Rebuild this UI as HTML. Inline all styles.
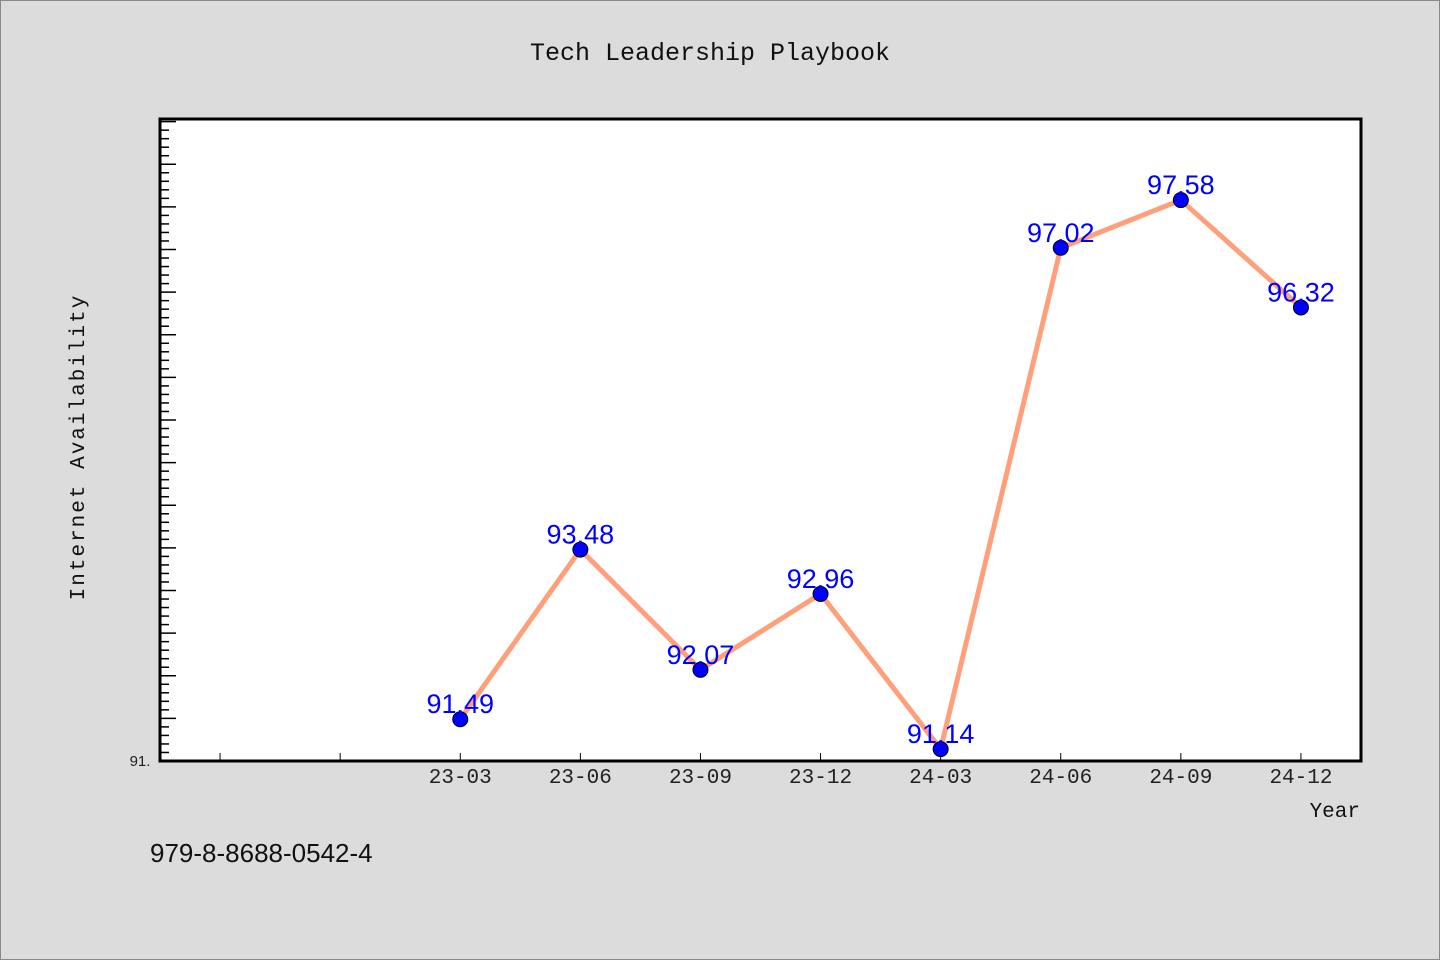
<!DOCTYPE html>
<html><head><meta charset="utf-8"><style>
body{margin:0;background:#dcdcdc;}
svg{display:block;font-family:"Liberation Sans","WenQuanYi Zen Hei",sans-serif;}
</style></head><body>
<svg width="1440" height="960">
<rect x="0.5" y="0.5" width="1439" height="959" fill="#dcdcdc" stroke="#888"/>
<text x="710" y="60" text-anchor="middle" font-size="25" fill="#111" font-family="WenQuanYi Zen Hei, Liberation Mono, monospace">Tech Leadership Playbook</text>
<rect x="160" y="119" width="1201" height="642" fill="#fff"/>
<g id="yticks"></g>
<g id="xticks"></g>
<rect x="160" y="119" width="1201" height="642" fill="none" stroke="#000" stroke-width="3"/>
<text x="140" y="766" text-anchor="middle" font-size="15" fill="#222">91.</text>
<text transform="translate(84,447) rotate(-90)" text-anchor="middle" font-size="21" fill="#111" letter-spacing="2" font-family="WenQuanYi Zen Hei, Liberation Mono, monospace">Internet Availability</text>
<text x="1360" y="817" text-anchor="end" font-size="21" fill="#111" font-family="WenQuanYi Zen Hei, Liberation Mono, monospace">Year</text>
<text x="150" y="862" font-size="26" fill="#111" font-family="WenQuanYi Zen Hei, Liberation Sans, sans-serif">979-8-8688-0542-4</text>
<g id="series"></g>
</svg>
<script>
const categories=["23-03","23-06","23-09","23-12","24-03","24-06","24-09","24-12"];
const values=[91.49,93.48,92.07,92.96,91.14,97.02,97.58,96.32];
const labels=["91.49","93.48","92.07","92.96","91.14","97.02","97.58","96.32"];
const NS="http://www.w3.org/2000/svg";
const X0=160,X1=1361,Y0=761,Y1=119,XMIN=-2.5,XMAX=7.5,YMIN=91,YMAX=91+(761-119)/85.25;
function xs(i){return X0+(i-XMIN)/(XMAX-XMIN)*(X1-X0);}
function ys(v){return Y0-(v-YMIN)/(YMAX-YMIN)*(Y0-Y1);}
function mk(t,a,p){const e=document.createElementNS(NS,t);for(const k in a)e.setAttribute(k,a[k]);p.appendChild(e);return e;}
const yt=document.getElementById('yticks');
for(let k=1;91+k*0.1<YMAX;k++){const y=ys(91+k*0.1);const l=(k%5==0)?16:9;
const t=mk('line',{x1:X0,x2:X0+l,y1:y,y2:y,stroke:'#000','stroke-width':1.5},yt);

}
const xt=document.getElementById('xticks');
for(let i=-2;i<=7;i++){const x=xs(i);
const t=mk('line',{x1:x,x2:x,y1:Y0,y2:Y0-8,stroke:'#000','stroke-width':1},xt);


if(i>=0&&i<categories.length){const tx=mk('text',{x:x,y:783,'text-anchor':'middle','font-size':21,fill:'#222','font-family':'WenQuanYi Zen Hei, Liberation Mono, monospace'},xt);tx.textContent=categories[i];

}}
const s=document.getElementById('series');
const pl=mk('polyline',{points:values.map((v,i)=>xs(i)+','+ys(v)).join(' '),fill:'none',stroke:'#ffa07a','stroke-width':5,'stroke-linejoin':'round'},s);


values.forEach((v,i)=>{
const c=mk('circle',{cx:xs(i),cy:ys(v),r:7.5,fill:'#0000ff',stroke:'#000','stroke-width':1},s);


const t=mk('text',{x:xs(i),y:ys(v)-6,'text-anchor':'middle','font-size':27,fill:'#0000ff','font-family':'WenQuanYi Zen Hei, Liberation Sans, sans-serif'},s);
t.textContent=labels[i];


});
</script>
</body></html>
